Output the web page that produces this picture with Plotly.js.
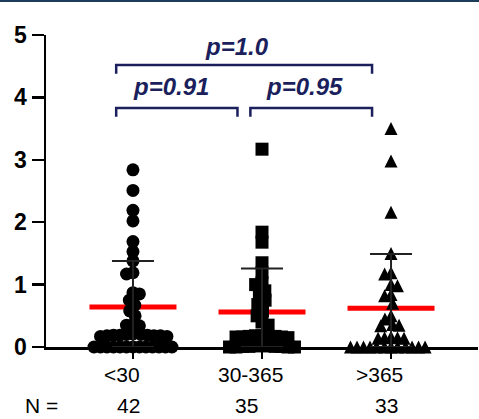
<!DOCTYPE html>
<html><head><meta charset="utf-8">
<script src="https://cdn.plot.ly/plotly-3.0.1.min.js"></script>
<style>
html,body{margin:0;padding:0;background:#fff;}
#wrap{position:relative;width:479px;height:419px;}
#chart{width:479px;height:419px;}
#topbar{position:absolute;left:0;top:0;width:479px;height:2px;background:#1d3c5a;}
</style>
</head><body>
<div id="wrap"><div id="chart"></div><div id="topbar"></div></div>
<script>
// ---- data ----
const categories = ['<30', '30-365', '>365'];
const nLabels = ['42', '35', '33'];
const groupShort = [2.84, 2.51, 2.19, 2.02, 1.69, 1.53, 1.38, 1.19, 1.17, 0.87, 0.85, 0.75, 0.67, 0.58, 0.50, 0.36, 0.35, 0.34,
  0.21, 0.20, 0.20, 0.19, 0.19, 0.19, 0.18, 0.18, 0.18, 0.17, 0.17,
  0, 0, 0, 0, 0, 0, 0, 0, 0, 0, 0, 0, 0];
const groupMid = [3.17, 1.84, 1.68, 1.35, 1.19, 1.03, 1.00, 0.90, 0.82, 0.75, 0.68, 0.58, 0.50, 0.40, 0.35,
  0.18, 0.18, 0.17, 0.17, 0.17, 0.16, 0.16, 0.16, 0.15,
  0.02, 0.02, 0.02, 0.01, 0.01, 0.01, 0.01, 0, 0, 0, 0];
const groupLong = [3.50, 2.98, 2.16, 1.50, 1.19, 1.17, 1.00, 0.98, 0.84, 0.82, 0.70, 0.50, 0.45, 0.36, 0.35, 0.34,
  0.16, 0.15, 0.15, 0.14, 0.14,
  0, 0, 0, 0, 0, 0, 0, 0, 0, 0, 0, 0];
const means = [0.64, 0.56, 0.62];
const sds = [0.74, 0.70, 0.87];
const pTexts = ['p=0.91', 'p=0.95', 'p=1.0'];

// ---- geometry / style ----
const W = 479, H = 419;
const M = {l: 46, r: 1, t: 35, b: 72};
const xRange = [-0.674, 2.674];
const yRange = [0, 5];
const plotW = W - M.l - M.r, plotH = H - M.t - M.b;
const PXX = plotW / (xRange[1] - xRange[0]);
const PXY = plotH / (yRange[1] - yRange[0]);
const FONT = 'Liberation Sans, Arial, Helvetica, sans-serif';
const NAVY = '#1b1f5c';
const MS = 13;

function swarm(vals, dX, dY) {
  const placed = [];
  const out = [];
  vals.forEach(v => {
    const y = v * PXY;
    const cands = [0];
    placed.forEach(q => {
      const dy = Math.abs(y - q.y);
      if (dy < dY) {
        const o = dX * Math.sqrt(1 - (dy / dY) ** 2);
        cands.push(q.x + o, q.x - o);
      }
    });
    const ok = c => placed.every(q => ((c - q.x) / dX) ** 2 + ((y - q.y) / dY) ** 2 >= 1 - 1e-6);
    const bal = placed.reduce((s, q) => s + Math.sign(q.x), 0);
    let best = null;
    cands.filter(ok).forEach(c => {
      if (best === null || Math.abs(c) < Math.abs(best) - 1e-6) best = c;
      else if (Math.abs(Math.abs(c) - Math.abs(best)) < 1e-6) {
        if ((bal >= 0 && c < best) || (bal < 0 && c > best)) best = c;
      }
    });
    placed.push({x: best, y});
    out.push(best);
  });
  return out;
}

const groups = [groupShort, groupMid, groupLong];
const symbols = ['circle', 'square', 'arrow-up'];
const yOffsetPx = [0, 0, MS / 2]; // arrow-up has its apex at the point
const traces = [];

// red mean lines
traces.push({
  type: 'scatter', mode: 'markers', x: [0, 1, 2], y: means,
  marker: {color: 'rgba(0,0,0,0)', size: 1},
  error_x: {type: 'data', array: [1, 1, 1].map(() => 43.5 / PXX), width: 0, thickness: 5, color: '#ff0000'},
  hoverinfo: 'skip', cliponaxis: false
});

groups.forEach((vals, i) => {
  const offs = swarm(vals, 6.5, 9);
  traces.push({
    type: 'scatter', mode: 'markers',
    x: offs.map(o => i + o / PXX),
    y: vals.map(v => v + yOffsetPx[i] / PXY),
    marker: {symbol: symbols[i], size: MS, color: '#000', line: {width: 0}},
    cliponaxis: false, hoverinfo: 'skip'
  });
});

// SD error bars
traces.push({
  type: 'scatter', mode: 'markers', x: [0, 1, 2], y: means,
  marker: {color: 'rgba(0,0,0,0)', size: 1},
  error_y: {type: 'data', symmetric: false, array: sds, arrayminus: means, width: 21, thickness: 2, color: '#222'},
  hoverinfo: 'skip', cliponaxis: false
});

const esc = s => s.replace(/&/g, '&amp;').replace(/</g, '&lt;').replace(/>/g, '&gt;');
const annotations = [];
const labelShift = [-11, -12, -12];
const nShift = [-4, -16, -5];
categories.forEach((c, i) => {
  annotations.push({xref: 'x', yref: 'paper', x: i, y: (plotH - (374.5 - M.t)) / plotH, xshift: labelShift[i],
    text: esc(c), showarrow: false, xanchor: 'center', yanchor: 'middle',
    font: {family: FONT, size: 21, color: '#000'}});
  annotations.push({xref: 'x', yref: 'paper', x: i, y: (plotH - (405 - M.t)) / plotH, xshift: nShift[i],
    text: nLabels[i], showarrow: false, xanchor: 'center', yanchor: 'middle',
    font: {family: FONT, size: 21, color: '#000'}});
});
annotations.push({xref: 'paper', yref: 'paper', x: (41 - M.l) / plotW, y: (plotH - (405 - M.t)) / plotH,
  text: 'N =', showarrow: false, xanchor: 'center', yanchor: 'middle',
  font: {family: FONT, size: 21, color: '#000'}});

// brackets and p-values
const brackets = [
  {x0: -0.13, x1: 0.81, y: 3.83, p: pTexts[0], px: 0.295, py: 4.17},
  {x0: 0.91, x1: 1.853, y: 3.83, p: pTexts[1], px: 1.333, py: 4.17},
  {x0: -0.13, x1: 1.853, y: 4.52, p: pTexts[2], px: 0.81, py: 4.81}
];
const shapes = brackets.map(b => ({
  type: 'path', xref: 'x', yref: 'y',
  path: `M${b.x0},${b.y - 0.14} L${b.x0},${b.y} L${b.x1},${b.y} L${b.x1},${b.y - 0.14}`,
  line: {color: NAVY, width: 2.5}
}));
brackets.forEach(b => annotations.push({
  xref: 'x', yref: 'y', x: b.px, y: b.py, text: '<b><i>' + b.p + '</i></b>', showarrow: false,
  xanchor: 'center', yanchor: 'middle', font: {family: FONT, size: 24, color: NAVY}
}));

const layout = {
  width: W, height: H, margin: {l: M.l, r: M.r, t: M.t, b: M.b, pad: 0},
  paper_bgcolor: '#fff', plot_bgcolor: '#fff', showlegend: false,
  xaxis: {range: xRange, showgrid: false, zeroline: false, showline: true, linecolor: '#000', linewidth: 2.5,
    ticks: 'outside', tickvals: [0, 1, 2], ticklen: 9, tickwidth: 2.5, tickcolor: '#000', showticklabels: false, fixedrange: true},
  yaxis: {range: yRange, tick0: 0, dtick: 1, showgrid: false, zeroline: false, showline: true, linecolor: '#000', linewidth: 2.5,
    ticks: 'outside', ticklen: 12, tickwidth: 2.5, tickcolor: '#000', fixedrange: true,
    tickfont: {family: FONT, size: 23, color: '#000', weight: 'bold'}},
  shapes, annotations
};
Plotly.newPlot('chart', traces, layout, {displayModeBar: false, staticPlot: true});
</script>
</body></html>
